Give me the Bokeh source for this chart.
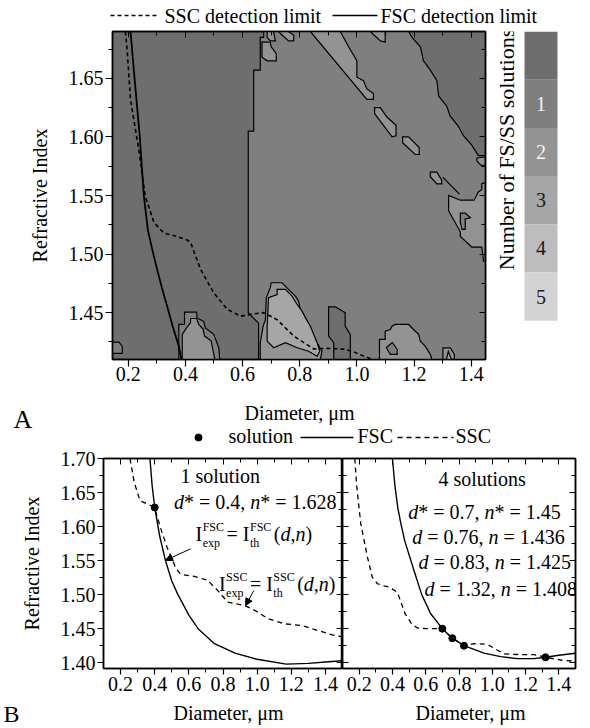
import math
from bokeh.plotting import figure
from bokeh.layouts import column, row
from bokeh.models import (Range1d, LinearAxis, FixedTicker, Label, Arrow,
                          NormalHead, CustomJSTickFormatter, PrintfTickFormatter)
from bokeh.core.properties import value
from bokeh.embed import file_html
from bokeh.resources import INLINE

FONT = "Liberation Serif"

# ======================= DATA =======================
# ---- Panel A: number of FS/SS solutions map ----
A_X_TICKS = [0.2, 0.4, 0.6, 0.8, 1.0, 1.2, 1.4]
A_X_MINOR = [0.3, 0.5, 0.7, 0.9, 1.1, 1.3]
A_Y_TICKS = [1.45, 1.50, 1.55, 1.60, 1.65]
A_Y_MINOR = [1.425, 1.475, 1.525, 1.575, 1.625, 1.675]

levels = [0, 1, 2, 3, 4, 5]
level_colors = ["#6e6e6e", "#7f7f7f", "#939393", "#a6a6a6", "#bdbdbd", "#d3d3d3"]
level_labels = ["", "1", "2", "3", "4", "5"]

# detection limits (diameter um, refractive index)
a_fsc_d = [0.208, 0.224, 0.2405, 0.2545, 0.2685, 0.284, 0.301, 0.318, 0.336, 0.356, 0.377, 0.386]
a_fsc_n = [1.69, 1.645, 1.600, 1.550, 1.521, 1.504, 1.487, 1.471, 1.4556, 1.438, 1.4214, 1.41]
a_ssc_d = [0.190, 0.196, 0.208, 0.237, 0.260, 0.290, 0.324, 0.371, 0.406, 0.418, 0.453, 0.499,
           0.546, 0.593, 0.639, 0.674, 0.721, 0.779, 0.849, 0.900, 0.950, 0.985, 1.023, 1.055]
a_ssc_n = [1.690, 1.675, 1.632, 1.589, 1.549, 1.527, 1.518, 1.515, 1.512, 1.510, 1.487, 1.467,
           1.453, 1.447, 1.449, 1.450, 1.444, 1.430, 1.419, 1.4195, 1.419, 1.417, 1.413, 1.410]

# contour regions (level, diameter list, index list)
region1_d = [0.674, 0.674, 0.662, 0.662, 0.639, 0.639, 0.620, 0.620, 0.656, 0.656, 1.45, 1.45,
             1.425, 1.402, 1.373, 1.355, 1.326, 1.315, 1.286, 1.280, 1.257, 1.233, 1.222, 1.193, 1.181]
region1_n = [1.69, 1.685, 1.685, 1.657, 1.657, 1.605, 1.605, 1.450, 1.441, 1.41, 1.41, 1.584,
             1.584, 1.593, 1.601, 1.609, 1.618, 1.626, 1.635, 1.648, 1.657, 1.665, 1.677, 1.685, 1.69]
band_d = [0.837, 0.942, 0.971, 1.000, 1.000, 1.023, 1.035, 1.058, 1.058, 1.035]
band_n = [1.69, 1.69, 1.677, 1.665, 1.651, 1.648, 1.641, 1.637, 1.632, 1.632]
top1_d = [0.668, 0.668, 0.686, 0.718, 0.718, 0.700, 0.697]
top1_n = [1.681, 1.668, 1.665, 1.665, 1.671, 1.677, 1.681]
top2_d = [0.686, 0.686, 0.697, 0.715, 0.708]
top2_n = [1.69, 1.685, 1.682, 1.682, 1.69]
top3_d = [0.726, 0.738, 0.761, 0.779, 0.779, 0.760]
top3_n = [1.69, 1.687, 1.682, 1.682, 1.687, 1.69]
top4_d = [1.047, 1.099, 1.099, 1.082]
top4_n = [1.69, 1.69, 1.681, 1.682]
diag1_d = [1.062, 1.082, 1.105, 1.137, 1.137, 1.123, 1.099, 1.062]
diag1_n = [1.625, 1.625, 1.617, 1.610, 1.601, 1.600, 1.608, 1.620]
diag2_d = [1.160, 1.181, 1.218, 1.218, 1.204, 1.160]
diag2_n = [1.600, 1.600, 1.591, 1.585, 1.585, 1.595]
diag3_d = [1.257, 1.280, 1.297, 1.297, 1.280, 1.257]
diag3_n = [1.570, 1.570, 1.563, 1.560, 1.560, 1.566]
sliver_d = [1.301, 1.359]
sliver_n = [1.5655, 1.5512]
edge_d = [1.420, 1.449, 1.449, 1.435, 1.420]
edge_n = [1.582, 1.583, 1.576, 1.5757, 1.5795]
right_d = [1.449, 1.437, 1.437, 1.425, 1.410, 1.362, 1.321, 1.321, 1.362, 1.362, 1.402, 1.437, 1.443, 1.449]
right_n = [1.561, 1.560, 1.555, 1.553, 1.546, 1.546, 1.550, 1.537, 1.519, 1.515, 1.506, 1.506, 1.494, 1.494]
right_hole_d = [1.362, 1.379, 1.397, 1.379, 1.379, 1.368, 1.362]
right_hole_n = [1.535, 1.535, 1.531, 1.530, 1.521, 1.521, 1.527]
c04_outer_d = [0.377, 0.377, 0.397, 0.397, 0.439, 0.441, 0.464, 0.470, 0.499, 0.517, 0.520]
c04_outer_n = [1.41, 1.440, 1.440, 1.4505, 1.4505, 1.4455, 1.4425, 1.437, 1.4315, 1.420, 1.41]
c04_inner_d = [0.389, 0.389, 0.404, 0.418, 0.418, 0.439, 0.447, 0.462, 0.467, 0.490, 0.503]
c04_inner_n = [1.41, 1.4315, 1.437, 1.4415, 1.445, 1.445, 1.440, 1.436, 1.430, 1.426, 1.41]
c07_outer_d = [0.662, 0.662, 0.672, 0.680, 0.683, 0.697, 0.700, 0.738, 0.767, 0.785, 0.796, 0.802,
               0.820, 0.831, 0.843, 0.861, 0.878, 0.872]
c07_outer_n = [1.41, 1.4243, 1.4385, 1.4442, 1.4627, 1.4713, 1.4755, 1.4755, 1.4684, 1.4641, 1.4598,
               1.4527, 1.4456, 1.4385, 1.43, 1.4243, 1.4171, 1.41]
c07_inner_d = [0.686, 0.686, 0.691, 0.721, 0.721, 0.750, 0.773, 0.791, 0.808, 0.820, 0.837, 0.849,
               0.861, 0.870, 0.861, 0.831, 0.791, 0.750, 0.709]
c07_inner_n = [1.4257, 1.4385, 1.4627, 1.4655, 1.4698, 1.4698, 1.4641, 1.457, 1.4513, 1.4456, 1.4385,
               1.4314, 1.4243, 1.4171, 1.4128, 1.4171, 1.420, 1.4243, 1.420]
dark_d = [0.901, 0.925, 0.959, 0.959, 0.977, 0.977, 0.919, 0.919, 0.901]
dark_n = [1.455, 1.455, 1.450, 1.4385, 1.4314, 1.41, 1.41, 1.4243, 1.430]
c11_d = [1.079, 1.079, 1.099, 1.099, 1.117, 1.123, 1.134, 1.181, 1.198, 1.216, 1.222, 1.239, 1.257, 1.262]
c11_n = [1.41, 1.4271, 1.4271, 1.4342, 1.4356, 1.4385, 1.4399, 1.4399, 1.4356, 1.4314, 1.4257,
         1.4214, 1.4143, 1.41]
c11_hole_d = [1.103, 1.124, 1.141, 1.141, 1.117]
c11_hole_n = [1.4203, 1.4245, 1.4186, 1.4143, 1.4143]
c13_d = [1.301, 1.301, 1.327, 1.341, 1.341]
c13_n = [1.41, 1.420, 1.420, 1.4143, 1.41]
c13_inner_d = [1.313, 1.320, 1.331]
c13_inner_n = [1.41, 1.4169, 1.41]
corner_d = [0.145, 0.167, 0.179, 0.179, 0.145]
corner_n = [1.4248, 1.4248, 1.4214, 1.4152, 1.4152]

contour_regions = [
    (1, region1_d, region1_n), (1, c04_outer_d, c04_outer_n), (1, corner_d, corner_n),
    (2, band_d, band_n), (2, top1_d, top1_n), (2, top2_d, top2_n), (2, top3_d, top3_n),
    (2, top4_d, top4_n), (2, diag1_d, diag1_n), (2, diag2_d, diag2_n), (2, diag3_d, diag3_n),
    (2, sliver_d, sliver_n), (2, edge_d, edge_n), (2, right_d, right_n),
    (2, c04_inner_d, c04_inner_n), (2, c07_outer_d, c07_outer_n), (2, c11_d, c11_n),
    (2, c13_d, c13_n),
    (3, c07_inner_d, c07_inner_n), (3, c13_inner_d, c13_inner_n),
    (0, dark_d, dark_n),
    (1, right_hole_d, right_hole_n), (1, c11_hole_d, c11_hole_n),
]

# ---- Panel B: example curves ----
B_X_TICKS = [0.2, 0.4, 0.6, 0.8, 1.0, 1.2, 1.4]
B_X_MINOR = [0.3, 0.5, 0.7, 0.9, 1.1, 1.3]
B_Y_TICKS = [1.40, 1.45, 1.50, 1.55, 1.60, 1.65, 1.70]
B_Y_MINOR = [1.425, 1.475, 1.525, 1.575, 1.625, 1.675]

b1_fsc_d = [0.372, 0.385, 0.40, 0.43, 0.463, 0.50, 0.536, 0.60, 0.654, 0.75, 0.87, 1.0, 1.17, 1.3, 1.4, 1.5]
b1_fsc_n = [1.70, 1.66, 1.628, 1.585, 1.55, 1.52, 1.50, 1.47, 1.45, 1.428, 1.414, 1.405, 1.398, 1.399, 1.401, 1.403]
b1_ssc_d = [0.255, 0.28, 0.314, 0.36, 0.399, 0.433, 0.473, 0.522, 0.55, 0.60, 0.63, 0.71, 0.769,
            0.828, 0.927, 0.986, 1.065, 1.164, 1.26, 1.36, 1.44, 1.5]
b1_ssc_n = [1.70, 1.665, 1.638, 1.633, 1.628, 1.599, 1.569, 1.540, 1.530, 1.528, 1.527, 1.521, 1.506,
            1.489, 1.484, 1.477, 1.4645, 1.457, 1.4547, 1.447, 1.441, 1.438]
b1_sol_d = [0.4]
b1_sol_n = [1.628]

b2_fsc_d = [0.40, 0.415, 0.432, 0.45, 0.474, 0.53, 0.576, 0.63, 0.70, 0.76, 0.83, 0.95, 1.05, 1.15,
            1.25, 1.32, 1.4, 1.5]
b2_fsc_n = [1.70, 1.66, 1.628, 1.605, 1.579, 1.535, 1.50, 1.472, 1.45, 1.436, 1.425, 1.414, 1.409,
            1.406, 1.406, 1.408, 1.411, 1.414]
b2_ssc_d = [0.174, 0.185, 0.21, 0.25, 0.28, 0.31, 0.35, 0.38, 0.43, 0.476, 0.516, 0.55, 0.60, 0.666,
            0.70, 0.76, 0.83, 0.89, 0.97, 1.02, 1.07, 1.16, 1.25, 1.32, 1.41, 1.5]
b2_ssc_n = [1.70, 1.66, 1.604, 1.555, 1.525, 1.516, 1.513, 1.511, 1.5035, 1.472, 1.457, 1.451, 1.45,
            1.45, 1.45, 1.436, 1.425, 1.428, 1.427, 1.42, 1.413, 1.412, 1.412, 1.408, 1.404, 1.402]
b2_sol_d = [0.7, 0.76, 0.83, 1.32]
b2_sol_n = [1.45, 1.436, 1.425, 1.408]

# ======================= HELPERS =======================
EM = {' ': 0.25, '*': 0.5, '=': 0.564, '.': 0.25, ',': 0.25, '(': 0.333, ')': 0.333,
      'I': 0.333, 'F': 0.556, 'S': 0.556, 'C': 0.667, 'e': 0.444, 'x': 0.5, 'p': 0.5,
      't': 0.278, 'h': 0.5, 'd': 0.5, 'n': 0.5}
MID = 0.33  # distance from baseline to the text's middle, in em


def text_w(s, size):
    return sum(EM.get(ch, 0.5) for ch in s) * size


def lab(p, x, y, text, size=20, style="normal", dx=0, dy=0, align="left", color="black"):
    # (x, y) is the baseline anchor; dy > 0 moves up
    p.add_layout(Label(x=x, y=y, x_offset=dx, y_offset=dy + MID * size, text=text,
                       text_font=FONT, text_font_size=f"{size}px", text_font_style=style,
                       text_align=align, text_baseline="middle", text_color=color))


def rich(p, x, y, parts, size=20, small=12):
    off = 0.0
    for part in parts:
        if part[0] == "t":
            s, style = part[1], part[2]
            lead = len(s) - len(s.lstrip(' '))
            lab(p, x, y, s.strip(), size, style, dx=off + text_w(' ' * lead, size))
            off += text_w(s, size)
        else:
            sub, sup = part[1], part[2]
            lab(p, x, y, sub, small, "normal", dx=off + 0.5, dy=-6)
            lab(p, x, y, sup, small, "normal", dx=off + 0.5, dy=10)
            off += max(text_w(sub, small), text_w(sup, small)) + 3


def style_axis(ax, tick_out=7, minor_out=4, standoff=2, label_standoff=10, size="20px"):
    ax.major_label_text_font = FONT
    ax.major_label_text_font_size = size
    ax.major_label_text_color = "black"
    ax.axis_label_text_font = FONT
    ax.axis_label_text_font_size = size
    ax.axis_label_text_font_style = "normal"
    ax.axis_label_text_color = "black"
    ax.axis_line_color = "black"
    ax.axis_line_width = 1.5
    ax.major_tick_line_color = "black"
    ax.minor_tick_line_color = "black"
    ax.major_tick_line_width = 1.2
    ax.minor_tick_line_width = 1.0
    ax.major_tick_in = 0
    ax.major_tick_out = tick_out
    ax.minor_tick_in = 0
    ax.minor_tick_out = minor_out
    ax.major_label_standoff = standoff
    ax.axis_label_standoff = label_standoff


def mirror(p, side, ticks, minor):
    ax = LinearAxis(ticker=FixedTicker(ticks=ticks, minor_ticks=minor),
                    formatter=CustomJSTickFormatter(code="return ''"),
                    major_label_text_font_size="0px", major_label_standoff=0,
                    major_tick_in=6, major_tick_out=0, minor_tick_in=4, minor_tick_out=0,
                    axis_line_color="black", axis_line_width=1.5,
                    major_tick_line_color="black", minor_tick_line_color="black")
    p.add_layout(ax, side)


def canvas(w, h):
    c = figure(width=w, height=h, x_range=Range1d(0, w), y_range=Range1d(h, 0),
               x_axis_type=None, y_axis_type=None, toolbar_location=None,
               output_backend="svg", min_border=0, outline_line_color=None)
    c.grid.visible = False
    return c


def ctext(c, x, baseline_y, s, size=20, align="left"):
    c.text(x=[x], y=[baseline_y - MID * size], text=[s], text_font=value(FONT),
           text_font_size=f"{size}px", text_align=align, text_baseline="middle",
           text_color="black")


# ======================= LEGEND A (page y 0..28) =======================
legA = canvas(590, 28)
legA.line(x=[110, 157], y=[15, 15], line_color="black", line_width=1.5, line_dash="4 3")
ctext(legA, 164, 22, "SSC detection limit")
legA.line(x=[332, 377], y=[15, 15], line_color="black", line_width=1.5)
ctext(legA, 380, 22, "FSC detection limit")

# ======================= PANEL A (page y 28..392) =======================
pA = figure(width=490, height=364, x_range=Range1d(0.145, 1.45), y_range=Range1d(1.41, 1.69),
            output_backend="svg", toolbar_location=None,
            min_border_left=112, min_border_right=5, min_border_top=3, min_border_bottom=33,
            background_fill_color=level_colors[0], border_fill_color="white",
            outline_line_color="black", outline_line_width=1.5)
pA.grid.visible = False
pA.xaxis.ticker = FixedTicker(ticks=A_X_TICKS, minor_ticks=A_X_MINOR)
pA.yaxis.ticker = FixedTicker(ticks=A_Y_TICKS, minor_ticks=A_Y_MINOR)
pA.xaxis.formatter = PrintfTickFormatter(format="%.1f")
pA.yaxis.formatter = PrintfTickFormatter(format="%.2f")
pA.yaxis.axis_label = "Refractive Index"
style_axis(pA.xaxis[0], standoff=0, label_standoff=0)
style_axis(pA.yaxis[0], standoff=2, label_standoff=15)
mirror(pA, "above", A_X_TICKS, A_X_MINOR)
mirror(pA, "right", A_Y_TICKS, A_Y_MINOR)

pA.patches(xs=[r[1] for r in contour_regions], ys=[r[2] for r in contour_regions],
           fill_color=[level_colors[r[0]] for r in contour_regions],
           line_color="black", line_width=1.2, line_join="miter")
pA.line(a_ssc_d, a_ssc_n, line_color="black", line_width=1.6, line_dash="4 3")
pA.line(a_fsc_d, a_fsc_n, line_color="black", line_width=1.8)

# ======================= COLOR BAR =======================
pCB = figure(width=100, height=364, x_range=Range1d(-0.97, 2.0), y_range=Range1d(6.305, -0.5),
             x_axis_type=None, y_axis_type=None, toolbar_location=None, output_backend="svg",
             min_border_left=2, min_border_right=0, min_border_top=3, min_border_bottom=33,
             outline_line_color=None)
pCB.grid.visible = False
pCB.rect(x=[0.5] * len(levels), y=levels, width=1, height=1, fill_color=level_colors,
         line_color=None)
pCB.text(x=[0.5] * 5, y=levels[1:], text=level_labels[1:],
         text_color=["#f4f4f4", "#f4f4f4", "#1a1a1a", "#1a1a1a", "#1a1a1a"],
         text_font=value(FONT), text_font_size="20px", text_align="center",
         text_baseline="middle")
pCB.text(x=[-0.545], y=[1.948], text=["Number of FS/SS solutions"], angle=math.pi / 2,
         text_font=value(FONT), text_font_size="22px", text_align="center",
         text_baseline="middle", text_color="black")

# ======================= MIDDLE STRIP (page y 392..447) =======================
mid = canvas(590, 55)
ctext(mid, 13, 36, "A", size=26)
ctext(mid, 299, 27, "Diameter, μm", align="center")
mid.scatter(x=[198], y=[45], size=7, marker="circle", fill_color="black", line_color="black")
ctext(mid, 228, 50, "solution")
mid.line(x=[300, 353], y=[45, 45], line_color="black", line_width=1.3)
ctext(mid, 357, 50, "FSC")
mid.line(x=[397, 453], y=[45, 45], line_color="black", line_width=1.3, line_dash="5 4")
ctext(mid, 455, 50, "SSC")


# ======================= PANEL B (page y 447..700) =======================
def panel_b(width, left, right, ylabels):
    p = figure(width=width, height=253, x_range=Range1d(0.1, 1.5), y_range=Range1d(1.3915, 1.70),
               output_backend="svg", toolbar_location=None,
               min_border_left=left, min_border_right=right, min_border_top=11,
               min_border_bottom=32, outline_line_color="black", outline_line_width=1.5)
    p.grid.visible = False
    p.xaxis.ticker = FixedTicker(ticks=B_X_TICKS, minor_ticks=B_X_MINOR)
    p.yaxis.ticker = FixedTicker(ticks=B_Y_TICKS, minor_ticks=B_Y_MINOR)
    p.xaxis.formatter = PrintfTickFormatter(format="%.1f")
    style_axis(p.xaxis[0], tick_out=6, minor_out=4, standoff=2, label_standoff=0)
    if ylabels:
        p.yaxis.formatter = PrintfTickFormatter(format="%.2f")
        p.yaxis.axis_label = "Refractive Index"
        style_axis(p.yaxis[0], tick_out=6, minor_out=4, standoff=2, label_standoff=15)
    else:
        ax = p.yaxis[0]
        style_axis(ax, tick_out=0, minor_out=0, standoff=0)
        ax.major_tick_in = 6
        ax.minor_tick_in = 4
        ax.formatter = CustomJSTickFormatter(code="return ''")
        ax.major_label_text_font_size = "0px"
    mirror(p, "above", B_X_TICKS, B_X_MINOR)
    mirror(p, "right", B_Y_TICKS, B_Y_MINOR)
    return p


pB1 = panel_b(342, 103, 0, True)
pB1.line(b1_fsc_d, b1_fsc_n, line_color="black", line_width=1.4)
pB1.line(b1_ssc_d, b1_ssc_n, line_color="black", line_width=1.3, line_dash="5 4")
pB1.scatter(b1_sol_d, b1_sol_n, size=7, marker="circle", fill_color="black", line_color="black")
lab(pB1, 0.551, 1.6644, f"{len(b1_sol_d)} solution")
rich(pB1, 0.5125, 1.6262, [("t", "d", "italic"), ("t", f"* = {b1_sol_d[0]}, ", "normal"),
                           ("t", "n", "italic"), ("t", f"* = {b1_sol_n[0]}", "normal")])
expr_tail = [("t", "(", "normal"), ("t", "d", "italic"), ("t", ",", "normal"),
             ("t", "n", "italic"), ("t", ")", "normal")]
rich(pB1, 0.639, 1.5793, [("t", "I", "normal"), ("s", "exp", "FSC"), ("t", "= I", "normal"),
                          ("s", "th", "FSC")] + expr_tail)
rich(pB1, 0.776, 1.5060, [("t", "I", "normal"), ("s", "exp", "SSC"), ("t", "= I", "normal"),
                          ("s", "th", "SSC")] + expr_tail)
pB1.add_layout(Arrow(end=NormalHead(size=7, fill_color="black", line_color="black", line_width=1),
                     x_start=0.6097, y_start=1.5672, x_end=0.4632, y_end=1.5504,
                     line_color="black", line_width=1))
pB1.add_layout(Arrow(end=NormalHead(size=7, fill_color="black", line_color="black", line_width=1),
                     x_start=0.9806, y_start=1.506, x_end=0.932, y_end=1.484,
                     line_color="black", line_width=1))

pB2 = panel_b(248, 0, 15, False)
pB2.line(b2_fsc_d, b2_fsc_n, line_color="black", line_width=1.4)
pB2.line(b2_ssc_d, b2_ssc_n, line_color="black", line_width=1.3, line_dash="5 4")
pB2.scatter(b2_sol_d, b2_sol_n, size=7, marker="circle", fill_color="black", line_color="black")
lab(pB2, 0.677, 1.6600, f"{len(b2_sol_d)} solutions")
b2_text_pos = [(0.495, 1.6111), (0.519, 1.5754), (0.557, 1.5378), (0.593, 1.4987)]
for i, (tx, ty) in enumerate(b2_text_pos):
    star = "*" if i == 0 else ""
    rich(pB2, tx, ty, [("t", "d", "italic"), ("t", f"{star} = {b2_sol_d[i]}, ", "normal"),
                       ("t", "n", "italic"), ("t", f"{star} = {b2_sol_n[i]}", "normal")])

# ======================= BOTTOM STRIP (page y 700..727) =======================
bot = canvas(590, 27)
ctext(bot, 228, 19, "Diameter, μm", align="center")
ctext(bot, 470, 19, "Diameter, μm", align="center")
ctext(bot, 3, 21.5, "B", size=24)

layout = column(legA, row(pA, pCB), mid, row(pB1, pB2), bot)
open("out.html", "w").write(file_html(layout, INLINE))
